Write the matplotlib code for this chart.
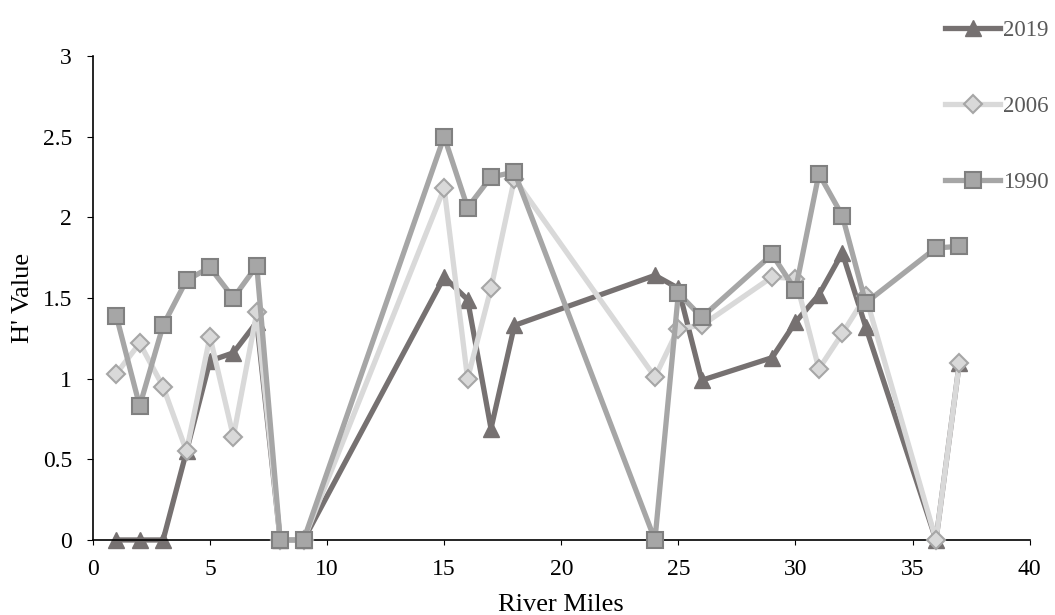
import matplotlib
matplotlib.use('Agg')
import matplotlib.pyplot as plt

plt.rcParams['font.family'] = ['Liberation Serif', 'DejaVu Serif']

# river miles sampled
miles = [1, 2, 3, 4, 5, 6, 7, 8, 9, 15, 16, 17, 18, 24, 25, 26, 29, 30, 31, 32, 33, 36, 37]

h2019 = [0, 0, 0, 0.55, 1.11, 1.16, 1.35, 0, 0, 1.63, 1.49, 0.69, 1.33,
         1.64, 1.56, 0.99, 1.13, 1.35, 1.52, 1.78, 1.32, 0, 1.10]
h2006 = [1.03, 1.22, 0.95, 0.55, 1.26, 0.64, 1.41, 0, 0, 2.18, 1.00, 1.56, 2.24,
         1.01, 1.31, 1.33, 1.63, 1.62, 1.06, 1.28, 1.51, 0, 1.10]
h1990 = [1.39, 0.83, 1.33, 1.61, 1.69, 1.50, 1.70, 0, 0, 2.50, 2.06, 2.25, 2.28,
         0, 1.53, 1.38, 1.77, 1.55, 2.27, 2.01, 1.47, 1.81, 1.82]

fig = plt.figure(figsize=(10.55, 6.15), dpi=100)
ax = fig.add_axes([0.088, 0.122, 0.888, 0.787])

ax.plot(miles, h2019, color='#767171', lw=3.8, marker='^', ms=11,
        mfc='#767171', mec='#767171', label='2019', zorder=2, clip_on=False)
ax.plot(miles, h2006, color='#d9d9d9', lw=3.8, marker='D', ms=9.5,
        mfc='#d9d9d9', mec='#a6a6a6', mew=1.5, label='2006', zorder=3, clip_on=False)
ax.plot(miles, h1990, color='#a6a6a6', lw=3.8, marker='s', ms=11.5,
        mfc='#a6a6a6', mec='#808080', mew=1.5, label='1990', zorder=4, clip_on=False)

ax.set_xlim(0, 40)
ax.set_ylim(0, 3)
ax.set_xticks(range(0, 41, 5))
ax.set_yticks([0, 0.5, 1, 1.5, 2, 2.5, 3])
ax.set_yticklabels(['0', '0.5', '1', '1.5', '2', '2.5', '3'])
ax.tick_params(labelsize=17, direction='out', color='black')
ax.tick_params(axis='y', length=4, pad=11)
ax.tick_params(axis='x', length=3.5, pad=10)
ax.spines['top'].set_visible(False)
ax.spines['right'].set_visible(False)
ax.spines['left'].set_linewidth(1.2)
ax.spines['bottom'].set_linewidth(1.2)

ax.set_xlabel('River Miles', fontsize=19, labelpad=10)
ax.set_ylabel("H' Value", fontsize=19, labelpad=6)

leg = fig.legend(loc='upper left', bbox_to_anchor=(0.896, 0.967), frameon=False,
                 fontsize=16.5, labelspacing=2.4, handlelength=2.4, handletextpad=0.1,
                 borderpad=0, borderaxespad=0)
for t in leg.get_texts():
    t.set_color('#595959')

fig.savefig('out.png', dpi=100)
